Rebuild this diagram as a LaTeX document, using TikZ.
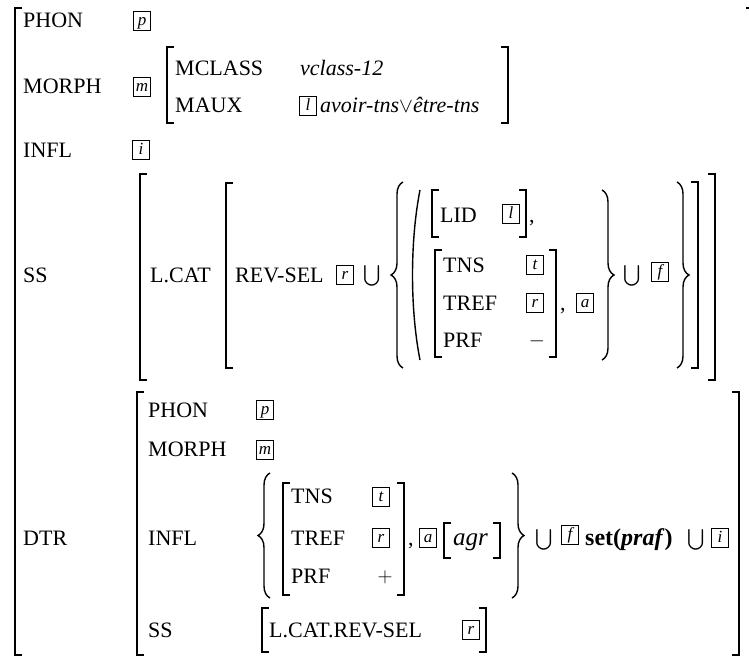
\documentclass[tikz,border=0pt]{standalone}
\usepackage{amsmath}
\usepackage{fontspec}
\setmainfont{Liberation Serif}
\usetikzlibrary{decorations.pathreplacing}
\newcommand{\avmfont}{\fontsize{22}{26}\selectfont}
% square brackets and a tall parenthesis: x, top, bottom
\newcommand{\avmlb}[3]{\draw[brk] (#1+7,#2) -- (#1,#2) -- (#1,#3) -- (#1+7,#3);}
\newcommand{\avmrb}[3]{\draw[brk] (#1-7,#2) -- (#1,#2) -- (#1,#3) -- (#1-7,#3);}
\newcommand{\avmparen}[3]{\draw[brk] (#1+10,#2) .. controls (#1,{#2+0.3*(#3-#2)}) and (#1,{#3-0.3*(#3-#2)}) .. (#1+10,#3);}
\tikzset{
  attr/.style={anchor=base west,inner sep=0pt,font=\avmfont},
  sym/.style={inner sep=0pt,font=\avmfont},
  tag/.style={draw,line width=0.6pt,inner sep=2pt,minimum width=17pt,
    text height=12pt,text depth=3.5pt,font=\fontsize{17}{17}\selectfont\itshape},
  brk/.style={line width=1.4pt},
  brc/.style={line width=1.4pt,decorate,decoration={brace,amplitude=12pt}},
}

\begin{document}
\begin{tikzpicture}[x=1pt,y=-1pt]
\useasboundingbox (0,0) rectangle (749,662);
% outer matrix
\avmlb{15}{8}{655}
\draw[brk] (746,8) -- (751,8) -- (751,662);
\node[attr] (phon) at (23,27) {PHON};
\node[tag] (phontag) at (142,21) {p};
\node[attr] (morph) at (23,93) {MORPH};
\node[tag] (morphtag) at (142,87) {m};
\avmlb{167}{47}{123}
\node[attr] (mclass) at (175,75) {MCLASS};
\node[attr] (vclass) at (300,75) {\textit{vclass-12}};
\node[attr] (maux) at (175,112) {MAUX};
\node[tag] (mauxtag) at (308,106) {l};
\node[attr] (mauxval) at (320,112) {\textit{avoir-tns}$\vee$\textit{être-tns}};
\avmrb{508}{47}{123}
\node[attr] (infl) at (23,157) {INFL};
\node[tag] (infltag) at (141,150) {i};
% SS
\node[attr] (ss) at (23,282) {SS};
\avmlb{140}{174}{380}
\node[attr] (lcat) at (150,282) {L.CAT};
\avmlb{226}{183}{368}
\node[attr] (revsel) at (235,282) {REV-SEL};
\node[tag] (revtag) at (345,275) {r};
\node[sym] (cup1) at (372,276) {$\bigcup$};
\draw[brc] (403,368) -- (403,182);
\avmparen{410}{190}{360}
\avmlb{432}{190}{237}
\node[attr] (lid) at (440,222) {LID};
\node[tag] (lidtag) at (511,214) {l};
\avmrb{526}{190}{237}
\node[attr] (lidcomma) at (529,222) {,};
\avmlb{435}{250}{357}
\node[attr] (tns) at (443,272) {TNS};
\node[tag] (tnstag) at (535,265) {t};
\node[attr] (tref) at (443,310) {TREF};
\node[tag] (treftag) at (535,303) {r};
\node[attr] (prf) at (443,347) {PRF};
\node[sym] (prfval) at (537,341) {$-$};
\avmrb{556}{250}{357}
\node[attr] (trefcomma) at (560,310) {,};
\node[tag] (atag) at (585,303) {a};
\draw[brc] (602,190) -- (602,360);
\node[sym] (cup2) at (632,276) {$\bigcup$};
\node[tag] (ftag) at (660,272) {f};
\draw[brc] (677,182) -- (677,368);
\avmrb{698}{182}{368}
\avmrb{715}{174}{380}
% DTR
\node[attr] (dtr) at (23,545) {DTR};
\avmlb{137}{392}{655}
\node[attr] (dphon) at (148,417) {PHON};
\node[tag] (dphontag) at (265,410) {p};
\node[attr] (dmorph) at (148,456) {MORPH};
\node[tag] (dmorphtag) at (265,450) {m};
\node[attr] (dinfl) at (148,545) {INFL};
\draw[brc] (270,598) -- (270,473);
\avmlb{283}{483}{595}
\node[attr] (dtns) at (291,503) {TNS};
\node[tag] (dtnstag) at (381,497) {t};
\node[attr] (dtref) at (291,545) {TREF};
\node[tag] (dtreftag) at (381,538) {r};
\node[attr] (dprf) at (291,583) {PRF};
\node[sym] (dprfval) at (385,577) {$+$};
\avmrb{404}{483}{595}
\node[attr] (dtrefcomma) at (408,545) {,};
\node[tag] (datag) at (428,538) {a};
\avmlb{444}{523}{558}
\node[attr,font=\fontsize{25}{28}\selectfont] (agr) at (453,545) {\textit{agr}};
\avmrb{500}{523}{558}
\draw[brc] (512,473) -- (512,598);
\node[sym] (dcup1) at (544,540) {$\bigcup$};
\node[tag] (dftag) at (570,535) {f};
\node[attr,font=\fontsize{24}{28}\selectfont] (setpraf) at (585,545) {\textbf{set(\textit{praf})}};
\node[sym] (dcup2) at (696,540) {$\bigcup$};
\node[tag] (ditag) at (720,538) {i};
\avmrb{739}{392}{655}
\node[attr] (dss) at (148,637) {SS};
\avmlb{262}{608}{652}
\node[attr] (dlcat) at (269,637) {L.CAT.REV-SEL};
\node[tag] (dsstag) at (471,630) {r};
\avmrb{486}{608}{652}
\end{tikzpicture}
\end{document}
